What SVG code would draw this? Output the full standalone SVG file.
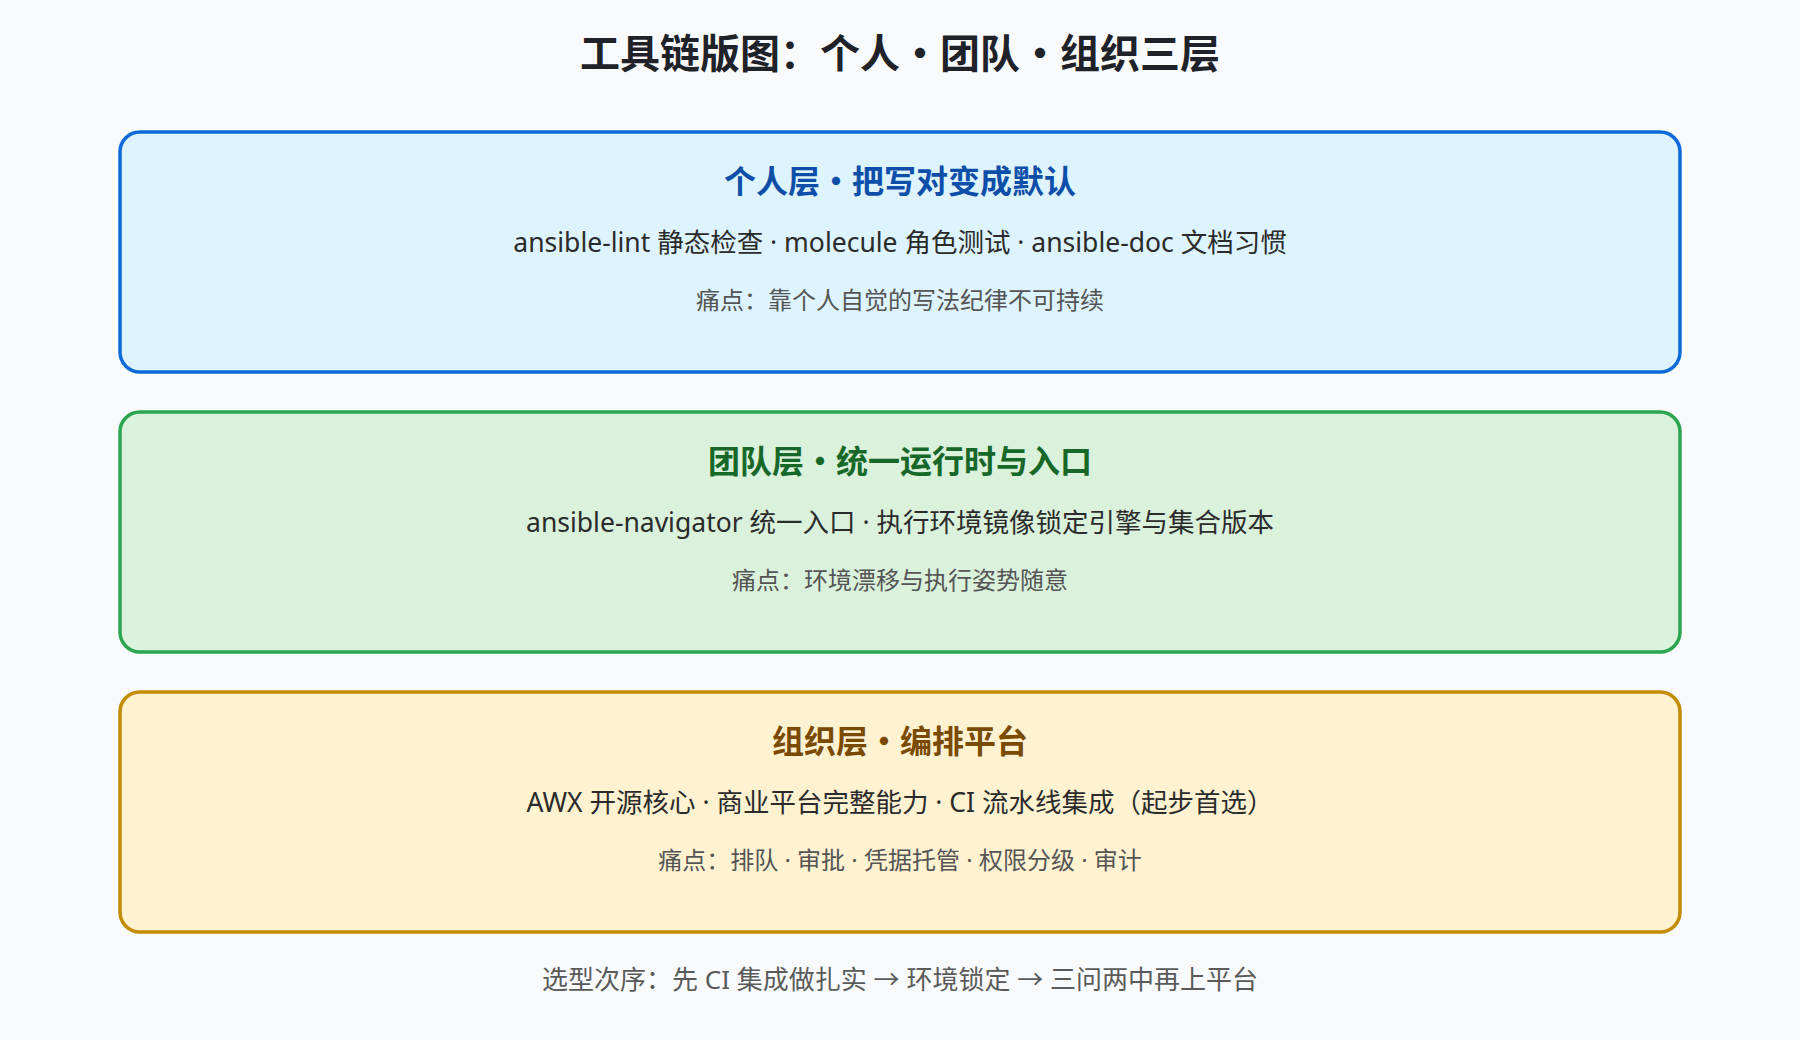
<svg xmlns="http://www.w3.org/2000/svg" width="1800" height="1040" viewBox="0 0 1800 1040">
  <style>
    .bg { fill: #f8fafc; }
    .title { font-family: "Noto Sans CJK SC", "Noto Sans", sans-serif; font-size: 40px; font-weight: 700; fill: #1f2329; text-anchor: middle; }
    .box { stroke-width: 3.5; }
    .h { font-family: "Noto Sans CJK SC", "Noto Sans", sans-serif; font-size: 32px; font-weight: 700; text-anchor: middle; }
    .sub { font-family: "Noto Sans", "Noto Sans CJK SC", sans-serif; font-size: 26.5px; fill: #2b2b2b; text-anchor: middle; }
    .pain { font-family: "Noto Sans", "Noto Sans CJK SC", sans-serif; font-size: 24px; fill: #555555; text-anchor: middle; }
    .foot { font-family: "Noto Sans", "Noto Sans CJK SC", sans-serif; font-size: 26px; fill: #5a5a5a; text-anchor: middle; }
    .b1 { fill: #ddf3fd; stroke: #0b69d8; }
    .b2 { fill: #daf1dc; stroke: #2aa551; }
    .b3 { fill: #fff2d1; stroke: #c48a00; }
    .t1 { fill: #0d4fa8; }
    .t2 { fill: #166829; }
    .t3 { fill: #7a4a00; }
  </style>
  <rect class="bg" x="0" y="0" width="1800" height="1040"/>
  <text id="title" class="title" x="900" y="68">工具链版图：个人・团队・组织三层</text>

  <g id="layer-personal">
    <rect class="box b1" x="120" y="132" width="1560" height="240" rx="20" ry="20"/>
    <text class="h t1" x="900" y="193">个人层・把写对变成默认</text>
    <text class="sub" x="900" y="252">ansible-lint 静态检查 · molecule 角色测试 · ansible-doc 文档习惯</text>
    <text class="pain" x="900" y="309">痛点：靠个人自觉的写法纪律不可持续</text>
  </g>

  <g id="layer-team">
    <rect class="box b2" x="120" y="412" width="1560" height="240" rx="20" ry="20"/>
    <text class="h t2" x="900" y="473">团队层・统一运行时与入口</text>
    <text class="sub" x="900" y="532">ansible-navigator 统一入口 · 执行环境镜像锁定引擎与集合版本</text>
    <text class="pain" x="900" y="589">痛点：环境漂移与执行姿势随意</text>
  </g>

  <g id="layer-org">
    <rect class="box b3" x="120" y="692" width="1560" height="240" rx="20" ry="20"/>
    <text class="h t3" x="900" y="753">组织层・编排平台</text>
    <text class="sub" x="900" y="812">AWX 开源核心 · 商业平台完整能力 · CI 流水线集成（起步首选）</text>
    <text class="pain" x="900" y="869">痛点：排队 · 审批 · 凭据托管 · 权限分级 · 审计</text>
  </g>

  <g id="connectors"></g>

  <text id="footer" class="foot" x="900" y="989">选型次序：先 CI 集成做扎实 → 环境锁定 → 三问两中再上平台</text>
</svg>
